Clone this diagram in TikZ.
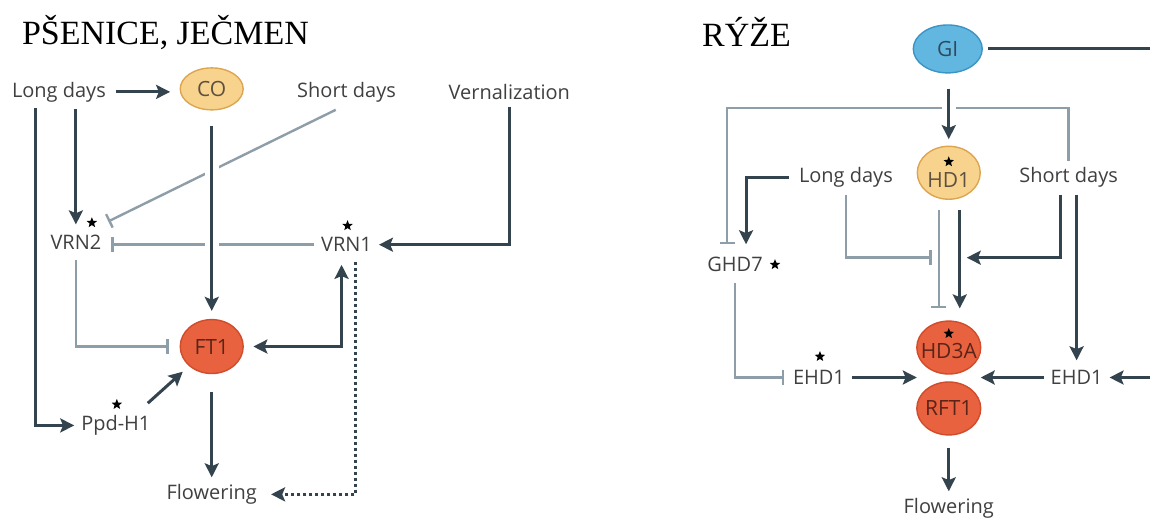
\documentclass[tikz,border=0pt]{standalone}
\usepackage{fontspec}
\setmainfont{Liberation Serif}
\newfontfamily\labelfont{Open Sans}
\usetikzlibrary{arrows.meta, shapes.geometric, calc}
\definecolor{darkline}{HTML}{34444E}
\definecolor{grayline}{HTML}{8E9EA8}
\definecolor{labeltext}{HTML}{404040}
\definecolor{cofill}{HTML}{F8D38E}
\definecolor{codraw}{HTML}{DDA550}
\definecolor{cotext}{HTML}{5E5040}
\definecolor{ftfill}{HTML}{E9623F}
\definecolor{ftdraw}{HTML}{D04C2A}
\definecolor{fttext}{HTML}{5A2418}
\definecolor{gifill}{HTML}{62B7E1}
\definecolor{gidraw}{HTML}{3B94C6}
\definecolor{gitext}{HTML}{2E4B5C}
\newcommand{\incell}[2]{\makebox[0pt]{\raisebox{-#1}[\height][\depth]{#2}}}

\begin{document}
\begin{tikzpicture}[x=0.5pt,y=-0.5pt,
  >={Stealth[length=7pt,width=7pt,inset=1.4pt]},
  lbl/.style={font=\labelfont\fontsize{10}{12}\selectfont,text=labeltext},
  heading/.style={font=\fontsize{17}{19}\selectfont,anchor=west},
  gene/.style={ellipse,inner sep=0pt,line width=0.7pt,font=\labelfont\fontsize{10.5}{12}\selectfont},
  gold/.style={gene,fill=cofill,draw=codraw,text=cotext},
  redgene/.style={gene,fill=ftfill,draw=ftdraw,text=fttext},
  bluegene/.style={gene,fill=gifill,draw=gidraw,text=gitext},
  starmark/.style={star,star points=5,star point ratio=2.3,fill=black,inner sep=0pt,minimum size=5.5pt},
  act/.style={->,draw=darkline,line width=1.5pt},
  inh/.style={-{Bar[width=7.5pt]},draw=grayline,line width=1.2pt},
  cross/.style={preaction={draw=white,line width=7pt,-}},
  dotline/.style={->,draw=darkline,line width=1.5pt,dash pattern=on 1.5pt off 1.5pt}]
  \fill[white](0,0)rectangle(1151,521);
  \node[heading](tw)at(15,33){PŠENICE, JEČMEN};
  \node[lbl](ldL)at(59,92){Long days};
  \node[gold,minimum width=31.5pt,minimum height=21pt](co)at(212,89){\incell{0pt}{CO}};
  \node[lbl](sdL)at(347,92){Short days};
  \node[lbl](vern)at(510,92){Vernalization};
  \node[lbl](vrn2)at(76,243){VRN2};
  \node[lbl](vrn1)at(347,245){VRN1};
  \node[redgene,minimum width=31.5pt,minimum height=27pt](ft1)at(212,347){\incell{0pt}{FT1}};
  \node[lbl](ppd)at(116,426){Ppd-H1};
  \node[lbl](flL)at(212,495){Flowering};
  \node[heading](tr)at(696,32){RÝŽE};
  \node[bluegene,minimum width=34.5pt,minimum height=24pt](gi)at(949,49){\incell{0pt}{GI}};
  \node[gold,minimum width=31.5pt,minimum height=26.5pt](hd1)at(950,173){\incell{3.5pt}{HD1}};
  \node[lbl](ldR)at(847,178){Long days};
  \node[lbl](sdR)at(1070,178){Short days};
  \node[lbl](ghd7)at(736,265){GHD7};
  \node[redgene,minimum width=32pt,minimum height=26.5pt](hd3a)at(950,348){\incell{1.5pt}{HD3A}};
  \node[redgene,minimum width=32pt,minimum height=26.5pt](rft1)at(950,409){\incell{0pt}{RFT1}};
  \node[lbl](ehdL)at(820,378){EHD1};
  \node[lbl](ehdR)at(1078,378){EHD1};
  \node[lbl](flR)at(950,509){Flowering};
  \foreach \s/\x/\y in {vrn2/92/223,vrn1/348/226,ppd/117/405,hd1/950/162,ghd7/776/265,hd3a/950/334,ehdL/821/357}
  {
    \node[starmark](st-\s)at(\x,\y){};
  }
  \coordinate(ldL1)at(36,108);
  \coordinate(hdmid)at(950,258);
  \coordinate(ftmid)at(950,378);
  \coordinate(edgeR1)at(1151,49);
  \coordinate(edgeR2)at(1151,378);
  \draw[inh,shorten <=1pt]([xshift=-4.5pt]sdL.south)--([yshift=3.5pt]vrn2.north east);
  \draw[inh,shorten >=1.5pt](vrn1.west)--(vrn1.west-|vrn2.east);
  \draw[inh,shorten <=1.5pt,shorten >=5.5pt](vrn2.south)|-(ft1.west);
  \draw[inh,shorten >=3pt](sdR.north)--++(0,-53)-|([xshift=-4pt]ghd7.north);
  \draw[inh,shorten >=8.5pt](ldR.south)|-(hdmid);
  \draw[inh,shorten <=5pt,shorten >=6pt]([xshift=-5pt]hd1.south)--([xshift=-5pt]hd3a.north);
  \draw[inh,shorten <=2pt,shorten >=1pt](ghd7.south)|-(ehdL.west);
  \draw[act,shorten <=1.5pt,shorten >=4.75pt](ldL.east)--(ldL.east-|co.west);
  \draw[act](ldL1)|-(ppd.west);
  \draw[act,shorten >=2pt](vrn2.north|-ldL.south)--(vrn2.north);
  \draw[act,cross,shorten <=7.5pt,shorten >=4pt](co.south)--(ft1.north);
  \draw[act](vern.south)|-(vrn1.east);
  \draw[act,<->,shorten <=4.75pt,shorten >=3pt](ft1.east)-|([xshift=-2.5pt]vrn1.south);
  \draw[act,shorten >=4.2pt]([shift={(16pt,2.6pt)}]ppd.north)--(ft1.south west);
  \draw[act,shorten <=9pt](ft1.south)--(flL.north);
  \draw[dotline,shorten <=1.5pt,shorten >=3.6pt]([xshift=4.5pt]vrn1.south)|-(flL.east);
  \draw[act,-,shorten <=2.75pt](gi.east)--(edgeR1);
  \draw[act,cross,shorten <=7.5pt,shorten >=3.25pt](hd1.north|-gi.south)--(hd1.north);
  \draw[act,shorten <=1.5pt,shorten >=3pt](ldR.west)-|([xshift=5.5pt]ghd7.north);
  \draw[act,shorten <=5pt,shorten >=6pt]([xshift=5.5pt]hd1.south)--([xshift=5.5pt]hd3a.north);
  \draw[act,shorten >=9pt]([xshift=-4pt]sdR.south)|-(hdmid);
  \draw[act,shorten >=1.5pt](sdR.south-|ehdR.north)--(ehdR.north);
  \draw[act,shorten >=16pt](ehdL.east)--(ftmid);
  \draw[act,shorten >=16pt](ehdR.west)--(ftmid);
  \draw[act](edgeR2)--(ehdR.east);
  \draw[act,shorten <=6pt](rft1.south)--(flR.north);
\end{tikzpicture}
\end{document}
